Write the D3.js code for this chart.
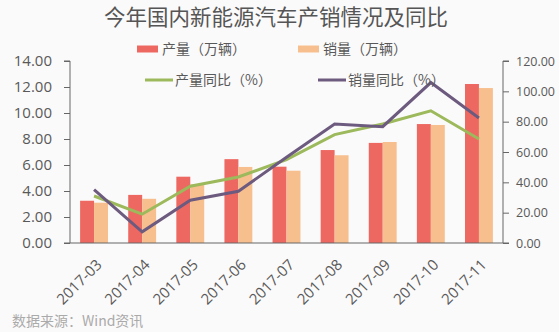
<!DOCTYPE html>
<html>
<head>
<meta charset="utf-8">
<script src="https://d3js.org/d3.v7.min.js"></script>
<style>
  html, body { margin: 0; padding: 0; background: #fbfafa; }
  svg { display: block; }
  text { font-family: "Noto Sans CJK SC", "Noto Sans", sans-serif; }
</style>
</head>
<body>
<svg id="chart" width="559" height="332"></svg>
<script>
// Monthly new-energy vehicle production / sales (10k units) and YoY growth (%)
const months = ["2017-03", "2017-04", "2017-05", "2017-06", "2017-07", "2017-08", "2017-09", "2017-10", "2017-11"];
const production = [3.25, 3.7, 5.1, 6.45, 5.87, 7.15, 7.7, 9.15, 12.23];
const sales = [3.1, 3.4, 4.5, 5.85, 5.56, 6.75, 7.77, 9.08, 11.92];
const productionYoY = [31, 19, 37.4, 43.5, 55, 71.5, 78.5, 87.2, 68.6];
const salesYoY = [35.2, 7.4, 28.2, 34.1, 56.5, 78.5, 76.7, 105.8, 82.4];
const leftTicks = [0, 2, 4, 6, 8, 10, 12, 14];
const rightTicks = [0, 20, 40, 60, 80, 100, 120];

const colors = { prod: "#ee6862", sales: "#f8bf8e", prodYoY: "#9cb95b", salesYoY: "#6d5a7f" };
const textColor = "#595959";

const svg = d3.select("#chart");
const plot = { left: 70, right: 503, top: 61, bottom: 243 };

const x = d3.scaleBand().domain(months).range([plot.left, plot.right]).paddingInner(0.42).paddingOuter(0.21);
const yL = d3.scaleLinear().domain([0, 14]).range([plot.bottom, plot.top]);
const yR = d3.scaleLinear().domain([0, 120]).range([plot.bottom, plot.top]);

// Title
svg.append("text").attr("x", 276).attr("y", 25).attr("text-anchor", "middle")
  .attr("font-size", 21.5).attr("fill", "#555").text("今年国内新能源汽车产销情况及同比");

// Bars
const bw = x.bandwidth() / 2;
svg.append("g").selectAll("rect").data(months).join("rect")
  .attr("x", d => x(d)).attr("width", bw)
  .attr("y", (d, i) => yL(production[i])).attr("height", (d, i) => yL(0) - yL(production[i]))
  .attr("fill", colors.prod);
svg.append("g").selectAll("rect").data(months).join("rect")
  .attr("x", d => x(d) + bw).attr("width", bw)
  .attr("y", (d, i) => yL(sales[i])).attr("height", (d, i) => yL(0) - yL(sales[i]))
  .attr("fill", colors.sales);

// Lines
const cx = d => x(d) + x.bandwidth() / 2;
const line = vals => d3.line().x((d, i) => cx(months[i])).y(d => yR(d))(vals);
svg.append("path").attr("d", line(productionYoY)).attr("fill", "none")
  .attr("stroke", colors.prodYoY).attr("stroke-width", 3);
svg.append("path").attr("d", line(salesYoY)).attr("fill", "none")
  .attr("stroke", colors.salesYoY).attr("stroke-width", 3);

// Left axis
const axL = svg.append("g").attr("transform", `translate(${plot.left},0)`)
  .call(d3.axisLeft(yL).tickValues(leftTicks).tickFormat(d3.format(".2f")).tickSize(6).tickPadding(12));
axL.select(".domain").attr("stroke", "#666").attr("d", `M-6,${plot.top}H0V${plot.bottom}H-6`);
axL.selectAll(".tick line").attr("stroke", "#666");
axL.selectAll("text").attr("font-size", 15).attr("fill", textColor)
  .style("font-family", "'Open Sans', sans-serif");

// Right axis
const axR = svg.append("g").attr("transform", `translate(${plot.right},0)`)
  .call(d3.axisRight(yR).tickValues(rightTicks).tickFormat(d3.format(".2f")).tickSize(6).tickPadding(7));
axR.select(".domain").attr("stroke", "#666").attr("d", `M6,${plot.top}H0V${plot.bottom}H6`);
axR.selectAll(".tick line").attr("stroke", "#666");
axR.selectAll("text").attr("font-size", 12.5).attr("fill", textColor)
  .style("font-family", "'Open Sans', sans-serif");

// Bottom axis
const axB = svg.append("g").attr("transform", `translate(0,${plot.bottom})`)
  .call(d3.axisBottom(x).tickSize(0).tickPadding(0));
axB.select(".domain").attr("stroke", "#666").attr("d", `M${plot.left},0H${plot.right}`);
axB.selectAll("text").attr("font-size", 15).attr("fill", textColor)
  .style("font-family", "'Open Sans', sans-serif")
  .attr("text-anchor", "end").attr("dy", "0.35em")
  .attr("transform", "translate(5,19) rotate(-45)");

// Legend
const legend = svg.append("g");
const lg = [
  { label: "产量（万辆）", color: colors.prod, type: "rect", x: 137, y: 49 },
  { label: "销量（万辆）", color: colors.sales, type: "rect", x: 298, y: 49 },
  { label: "产量同比（%）", color: colors.prodYoY, type: "line", x: 145, y: 80 },
  { label: "销量同比（%）", color: colors.salesYoY, type: "line", x: 318, y: 80 }
];
lg.forEach(d => {
  if (d.type === "rect") {
    legend.append("rect").attr("x", d.x).attr("y", d.y - 3.5).attr("width", 21).attr("height", 7).attr("fill", d.color);
  } else {
    legend.append("line").attr("x1", d.x).attr("x2", d.x + 28).attr("y1", d.y).attr("y2", d.y)
      .attr("stroke", d.color).attr("stroke-width", 3);
  }
  legend.append("text").attr("x", d.x + (d.type === "rect" ? 25 : 30)).attr("y", d.y).attr("dy", "0.35em")
    .attr("font-size", 14).attr("fill", textColor).text(d.label);
});

// Source note
svg.append("text").attr("x", 12).attr("y", 326).attr("font-size", 14).attr("fill", "#aaa")
  .text("数据来源：Wind资讯");
</script>
</body>
</html>
